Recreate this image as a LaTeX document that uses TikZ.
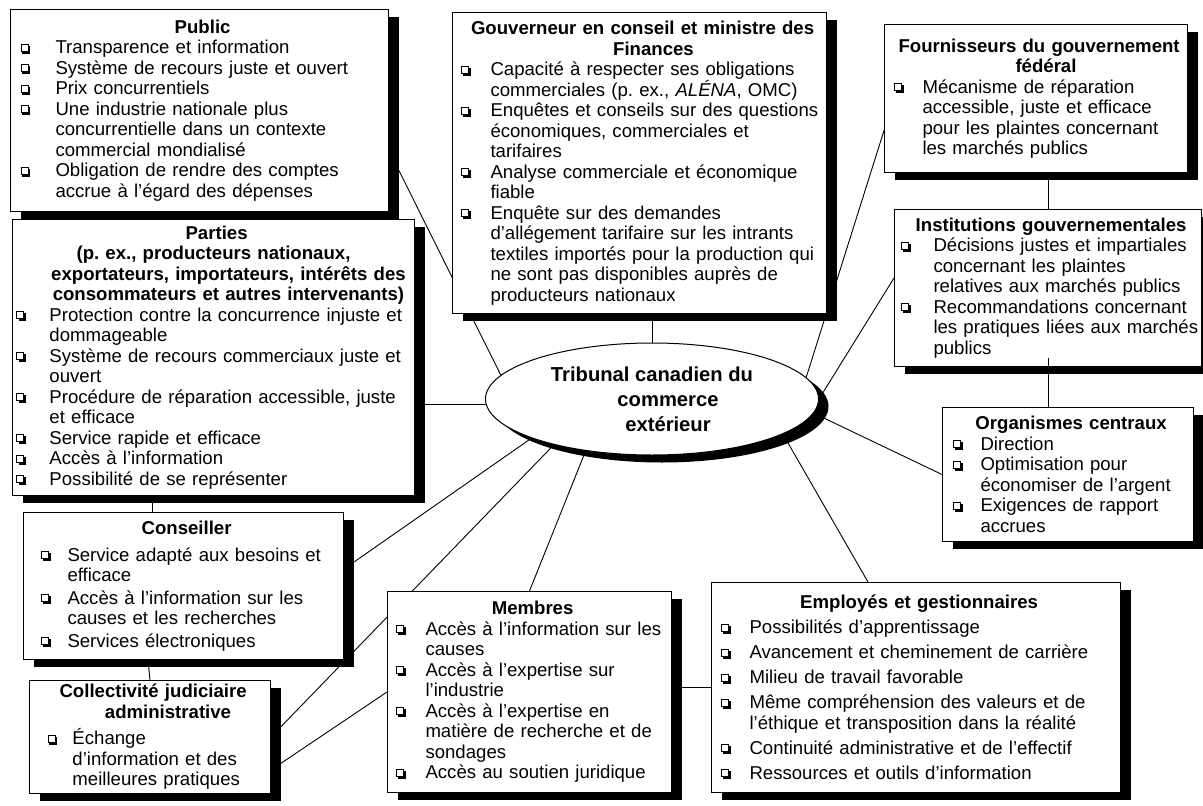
\documentclass[tikz,border=0pt]{standalone}
\usepackage{fontspec}
\setmainfont{Liberation Sans}
\usetikzlibrary{shapes,shadows,calc,backgrounds}
\frenchspacing

\newlength\cbx
\newlength\tix
\newcommand\ind[2]{\setlength\cbx{#1pt}\setlength\tix{#2pt}\setlength\parskip{0pt}}
\newcommand\chk{%
\rlap{\hspace*{2pt}\rule[0pt]{8pt}{8pt}}%
\rlap{\color{white}\rule[2pt]{8pt}{8pt}}%
\rlap{\rule[2pt]{8pt}{1pt}}%
\rlap{\rule[9pt]{8pt}{1pt}}%
\rlap{\rule[2pt]{1pt}{8pt}}%
\rlap{\hspace*{7pt}\rule[2pt]{1pt}{8pt}}}
\newcommand\ttl[2][0pt]{{\centering\bfseries #2\par}\vspace{#1}}
\newcommand\itm[1]{\par\noindent\hangindent=\tix\hangafter=1\makebox[\tix][l]{\hspace*{\cbx}\chk}{\let\\\newline #1}\par}

\tikzstyle{bx}=[draw, fill=white, line width=1pt, anchor=north west, inner sep=0pt, align=left, font=\fontsize{18.6}{20.5}\selectfont, drop shadow={shadow xshift=10pt, shadow yshift=-7.5pt, fill=black, opacity=1}]
\tikzstyle{ell}=[ellipse, draw, fill=white, line width=1pt, minimum width=333pt, minimum height=112pt, inner sep=0pt, align=center, font=\fontsize{20.2}{25}\selectfont\bfseries, drop shadow={shadow xshift=10pt, shadow yshift=-7.5pt, fill=black, opacity=1}]
\tikzstyle{ln}=[line width=0.9pt]

\begin{document}
\begin{tikzpicture}[x=1pt,y=-1pt]
\useasboundingbox (0,0) rectangle (1203,806);

\node[ell] (trib) at (652,399) {Tribunal canadien du\\\hspace*{32pt}commerce\\\hspace*{32pt}extérieur};

\node[bx, text width=378pt, minimum height=202pt] (pub) at (10,9) {\ind{10}{45}
\ttl{Public}
\itm{Transparence et information}
\itm{Système de recours juste et ouvert}
\itm{Prix concurrentiels}
\itm{Une industrie nationale plus\\concurrentielle dans un contexte\\commercial mondialisé}
\itm{Obligation de rendre des comptes\\accrue à l’égard des dépenses}};

\node[bx, text width=402pt, minimum height=276pt] (part) at (12,219) {\ind{4}{37}
\ttl{Parties\\(p. ex., producteurs nationaux,\\\hspace*{30pt}exportateurs, importateurs, intérêts des\\\hspace*{30pt}consommateurs et autres intervenants)}
\itm{Protection contre la concurrence injuste et\\dommageable}
\itm{Système de recours commerciaux juste et\\ouvert}
\itm{Procédure de réparation accessible, juste\\et efficace}
\itm{Service rapide et efficace}
\itm{Accès à l’information}
\itm{Possibilité de se représenter}};

\node[bx, text width=374pt, minimum height=301pt] (gouv) at (452,12) {\ind{8}{38}
\ttl{Gouverneur en conseil et ministre des\\\hspace*{28pt}Finances}
\itm{Capacité à respecter ses obligations\\commerciales (p. ex., \textit{ALÉNA}, OMC)}
\itm{Enquêtes et conseils sur des questions\\économiques, commerciales et\\tarifaires}
\itm{Analyse commerciale et économique\\fiable}
\itm{Enquête sur des demandes\\d’allégement tarifaire sur les intrants\\textiles importés pour la production qui\\ne sont pas disponibles auprès de\\producteurs nationaux}};

\node[bx, text width=303pt, minimum height=148pt] (four) at (884,24) {\ind{9}{38}
\ttl{Fournisseurs du gouvernement\\\hspace*{20pt}fédéral}
\itm{Mécanisme de réparation\\accessible, juste et efficace\\pour les plaintes concernant\\les marchés publics}};

\node[bx, text width=307pt, minimum height=157pt] (inst) at (894,209) {\ind{6}{39}
\ttl{Institutions gouvernementales}
\itm{Décisions justes et impartiales\\concernant les plaintes\\relatives aux marchés publics}
\itm{Recommandations concernant\\les pratiques liées aux marchés\\publics}};

\node[bx, text width=251pt, minimum height=134pt] (orga) at (942,407) {\ind{10}{38}
\ttl{Organismes centraux}
\itm{Direction}
\itm{Optimisation pour\\économiser de l’argent}
\itm{Exigences de rapport\\accrues}};

\node[bx, text width=409pt, minimum height=210pt] (empl) at (711,582) {\ind{9}{38}\setlength\parskip{4.5pt}
\ttl{Employés et gestionnaires}
\itm{Possibilités d’apprentissage}
\itm{Avancement et cheminement de carrière}
\itm{Milieu de travail favorable}
\itm{Même compréhension des valeurs et de\\l’éthique et transposition dans la réalité}
\itm{Continuité administrative et de l’effectif}
\itm{Ressources et outils d’information}};

\node[bx, text width=284pt, minimum height=201pt] (memb) at (387,591) {\ind{8}{38}
\ttl{Membres}
\itm{Accès à l’information sur les\\causes}
\itm{Accès à l’expertise sur\\l’industrie}
\itm{Accès à l’expertise en\\matière de recherche et de\\sondages}
\itm{Accès au soutien juridique}};

\node[bx, text width=320pt, minimum height=147pt] (cons) at (23,512) {\ind{17}{44}\setlength\parskip{2pt}
\ttl[4pt]{Conseiller}
\itm{Service adapté aux besoins et\\efficace}
\itm{Accès à l’information sur les\\causes et les recherches}
\itm{Services électroniques}};

\node[bx, text width=241pt, minimum height=113pt] (coll) at (29,680) {\ind{18}{43}
\ttl[6pt]{Collectivité judiciaire\\\hspace*{36pt}administrative}
\itm{Échange\\d’information et des\\meilleures pratiques}};

\begin{pgfonlayer}{background}
\draw[ln] ($(pub.east)+(0,40)$) -- (trib.171);
\draw[ln] (trib.north) -- (trib.north |- gouv.south);
\draw[ln] ($(four.west)+(0,32)$) -- (trib.8);
\draw[ln] ($(inst.west)+(0,-10)$) -- (trib.east);
\draw[ln] (trib.-5) -- (orga.west);
\draw[ln] (trib.-15) -- ($(empl.north)+(-48,0)$);
\draw[ln] (trib.-142) -- (memb.north);
\draw[ln] (trib.-162) -- ($(cons.east)+(0,-17)$);
\draw[ln] (trib.-155) -- (coll.east);
\draw[ln] (memb.west) -- ($(coll.east)+(0,33)$);
\draw[ln] (trib.182) -- (trib.182 -| part.east);
\draw[ln] (inst.north) -- (inst.north |- four.south);
\coordinate (pc) at ($(cons.north west)+(129,0)$);
\draw[ln] (pc) -- (pc |- part.south);
\draw[ln] (coll.north) -- ($(cons.south west)+(125,0)$);
\draw[ln] (empl.west) -- (empl.west -| memb.east);
\end{pgfonlayer}
\draw[ln] ($(inst.south)+(0,-9)$) -- (inst.south |- orga.north);
\end{tikzpicture}
\end{document}
